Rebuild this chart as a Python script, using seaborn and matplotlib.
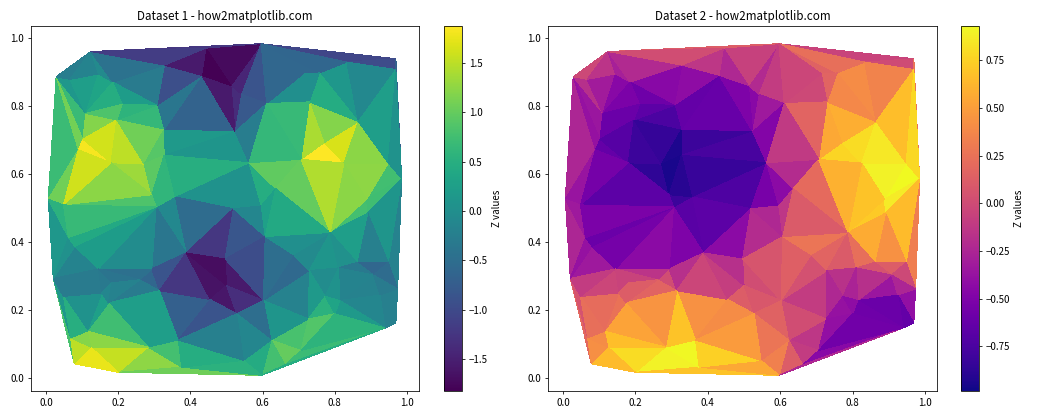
import matplotlib
matplotlib.use("Agg")
import matplotlib.pyplot as plt
import seaborn as sns

x_pts = [.028,.124,.066,.145,.185,.11,.211,.196,.307,.328,.443,.431,.326,.102,.0895,.18,.272,.327,.293,.048,.006,.355,
         .596,.512,.542,.611,.713,.757,.833,.969,.969,.865,.729,.524,.562,.770,.706,.825,.948,.985,.888,.636,
         .596,.519,.305,.062,.08,.145,.02,.048,.154,.182,.173,.114,.068,.124,.078,.2,.283,.366,.376,.314,.293,.26,.388,.455,
         .597,.939,.969,.974,.787,.891,.948,.861,.907,.81,.925,.814,.773,.80,.729,.685,.607,.602,.623,.727,.706,.662,.528,.547,
         .496,.50]
y_pts = [.887,.961,.879,.895,.871,.779,.806,.76,.803,.921,.971,.891,.73,.703,.672,.634,.63,.656,.54,.51,.527,.534,
         .984,.861,.835,.808,.896,.898,.93,.94,.908,.755,.813,.725,.634,.693,.644,.633,.633,.587,.527,.558,
         .507,.499,.504,.414,.388,.322,.294,.241,.251,.281,.222,.139,.119,.092,.043,.018,.092,.113,.033,.258,.322,.29,.369,.232,
         .009,.148,.163,.263,.429,.486,.341,.341,.304,.325,.245,.229,.241,.19,.317,.364,.417,.229,.113,.175,.082,.04,.19,.053,
         .351,.273]
z_first = [-.2,-.5,-.1,.1,.2,.7,.5,1.3,-.1,-1.0,-2.0,-1.7,.7,1.55,1.9,2.0,1.2,.8,.8,.9,.4,.2,
           -1.2,-2.0,-1.1,-.3,-.3,-.3,-.35,-1.6,-1.0,1.05,.6,-1.0,.5,1.9,1.7,2.0,.65,.5,1.1,.7,
           .2,-.5,.8,.3,.1,-.3,-.3,-.3,-.3,-.4,.3,.8,1.0,1.8,1.7,1.75,1.1,.3,.9,-.7,-.6,-.5,-1.3,-1.7,
           .5,-.3,-.3,-.3,.6,.6,-.8,-.5,-.5,0,-.1,0,.2,.8,-.3,-.5,-.1,-.9,.6,.6,1.2,1.2,-1.2,.2,
           -1.9,-1.9]
z_second = [0,.05,-.1,-.4,-.5,-.45,-.6,-.75,-.65,-.2,.2,-.4,-.85,-.6,-.55,-.75,-.95,-1.0,-.9,-.35,-.2,-.8,
            .1,-.5,-.25,-.15,-.05,.4,.2,-.45,.25,.6,.15,-.6,-.7,1.0,.5,.8,1.15,.95,.75,-.4,
            -.2,-.7,-.75,-.45,-.6,-.3,-.1,.1,.1,.05,.2,.45,.15,.6,.5,.85,.95,.9,.9,.2,-.25,.1,-.5,.2,
            .3,-.8,-.5,-.1,.5,.9,.1,.3,-.05,-.1,-.6,-.4,-.3,-.55,-.1,.1,.2,.1,.25,-.3,-.35,-.2,.1,.45,
            -.1,.05]
titles = ["Dataset 1 - how2matplotlib.com", "Dataset 2 - how2matplotlib.com"]
cbar_label = "Z values"
ticks_x = [0.0, 0.2, 0.4, 0.6, 0.8, 1.0]

sns.set_style("ticks", rc={"axes.edgecolor": "black", "text.color": "black", "xtick.color": "black",
                           "ytick.color": "black", "axes.labelcolor": "black", "axes.linewidth": 0.8,
                           "xtick.major.size": 3.5, "ytick.major.size": 3.5})
plt.rcParams["font.family"] = ["Noto Sans CJK SC", "DejaVu Sans"]
plt.rcParams["font.size"] = 10

W, H = 1050, 420
fig = plt.figure(figsize=(15, 6), dpi=70)

def box(l, r, t=26, b=391):
    return [l / W, 1 - b / H, (r - l) / W, (b - t) / H]

specs = [
    (z_first, "viridis", -1.82, 1.87, box(31, 419), box(444, 462)),
    (z_second, "plasma", -0.985, 0.93, box(548, 937), box(961, 979)),
]
for z, cm, lo, hi, ab, cb, title in [s + (t,) for s, t in zip(specs, titles)]:
    ax = fig.add_axes(ab)
    cax = fig.add_axes(cb)
    pc = ax.tripcolor(x_pts, y_pts, z, shading="flat", cmap=sns.color_palette(cm, as_cmap=True), vmin=lo, vmax=hi)
    ax.set_xlim(-0.0416, 1.033)
    ax.set_ylim(-0.037, 1.036)
    ax.set_xticks(ticks_x)
    ax.set_yticks(ticks_x)
    ax.tick_params(labelsize=10, width=0.8, length=3.5)
    ax.set_title(title, fontsize=12, pad=6)
    c = fig.colorbar(pc, cax=cax)
    c.set_label(cbar_label, fontsize=10)
    c.ax.tick_params(labelsize=10, width=0.8, length=3.5)
fig.savefig("out.png", dpi=70)
